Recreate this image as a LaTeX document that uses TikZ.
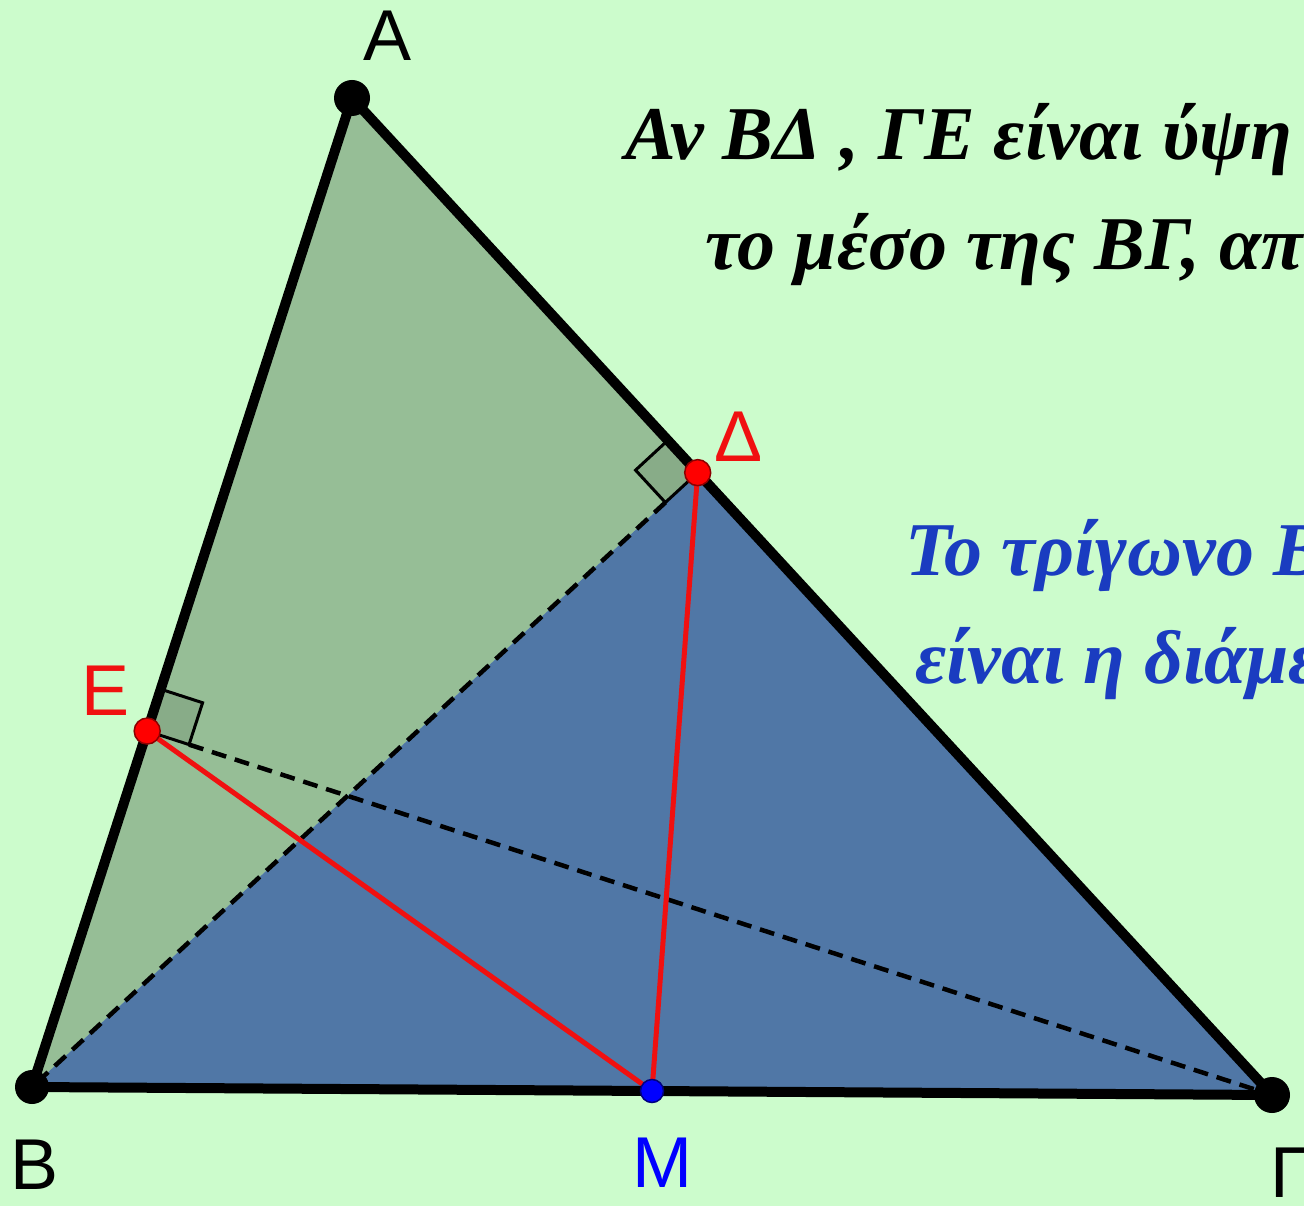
\documentclass[tikz,border=0pt]{standalone}
\usepackage{fontspec}
\usepackage{xcolor}
\usetikzlibrary{calc,positioning}
\newfontfamily\ptfont{Liberation Sans}
\newfontfamily\notefont{Liberation Serif}
\definecolor{bgcol}{HTML}{CCFCCC}
\definecolor{greenfill}{HTML}{96BE96}
\definecolor{bluefill}{HTML}{5077A6}
\definecolor{sqfill}{HTML}{88AC88}
\definecolor{notered}{HTML}{F01010}
\definecolor{noteblue}{HTML}{1A3CC0}

\begin{document}
\begin{tikzpicture}[x=1pt,y=-1pt,
  side/.style={line width=10pt, line cap=round, line join=round},
  alt/.style={line width=4.5pt, dash pattern=on 15pt off 9pt},
  seg/.style={line width=5pt, notered},
  rightsq/.style={draw, line width=3pt, fill=sqfill},
  vtx/.style={fill=black},
  ptlabel/.style={font=\ptfont\fontsize{72}{80}\selectfont, inner sep=0pt},
  note/.style={font=\notefont\bfseries\itshape\fontsize{76}{84}\selectfont,
               anchor=base west, inner sep=0pt}
]
\useasboundingbox (0,0) rectangle (1304,1206);
\begin{scope}
\clip (0,0) rectangle (1304,1206);
\fill[bgcol] (0,0) rectangle (1304,1206);

% vertices and feet of the altitudes
\coordinate (A) at (352,98);
\coordinate (B) at (32,1087);
\coordinate (G) at (1272,1095);
\coordinate (D) at ($(A)!(B)!(G)$);
\coordinate (E) at ($(A)!(G)!(B)$);
\coordinate (M) at ($(B)!0.5!(G)$);

\fill[greenfill] (A) -- (B) -- (D) -- cycle;
\fill[bluefill] (B) -- (D) -- (G) -- cycle;

% right angles
\coordinate (Da) at ($(D)!44pt!(A)$);
\coordinate (Db) at ($(D)!44pt!(B)$);
\coordinate (Ea) at ($(E)!44pt!(A)$);
\coordinate (Eg) at ($(E)!44pt!(G)$);
\draw[rightsq] (D) -- (Da) -- ($(Da)+(Db)-(D)$) -- (Db) -- cycle;
\draw[rightsq] (E) -- (Ea) -- ($(Ea)+(Eg)-(E)$) -- (Eg) -- cycle;

\draw[alt] (Db) -- (B);
\draw[alt] (Eg) -- (G);

\draw[seg] (E) -- (M) -- (D);

\draw[side] (A) -- (B) -- (G) -- cycle;

\fill[vtx] (A) circle (18pt);
\fill[vtx] (B) circle (17pt);
\fill[vtx] (G) circle (18pt);
\filldraw[fill=red, draw=red!55!black, line width=1.5pt] (E) circle (13pt);
\filldraw[fill=red, draw=red!55!black, line width=1.5pt] (D) circle (13pt);
\filldraw[fill=blue, draw=blue!50!black, line width=1.5pt] (M) circle (11.5pt);

% labels
\node[ptlabel] (lA) at ($(A)+(36,-62)$) {A};
\node[ptlabel] (lB) at ($(B)+(3,78)$) {B};
\node[ptlabel] (lG) at ($(G)+(18,78)$) {Γ};
\node[ptlabel, text=blue] (lM) at ($(M)+(10,72)$) {M};
\node[ptlabel, text=notered] (lE) at ($(E)+(-42,-40)$) {E};
\node[ptlabel, text=notered] (lD) at ($(D)+(41,-36)$) {Δ};

% texts
\node[note] (n1) at (625,160) {Αν ΒΔ , ΓΕ είναι ύψη};
\node[note] (n2) at (705,270) {το μέσο της ΒΓ, απ};
\node[note, text=noteblue] (n3) at (905,575) {Το τρίγωνο Β};
\node[note, text=noteblue] (n4) at (915,683) {είναι η διάμε};
\end{scope}
\end{tikzpicture}
\end{document}
